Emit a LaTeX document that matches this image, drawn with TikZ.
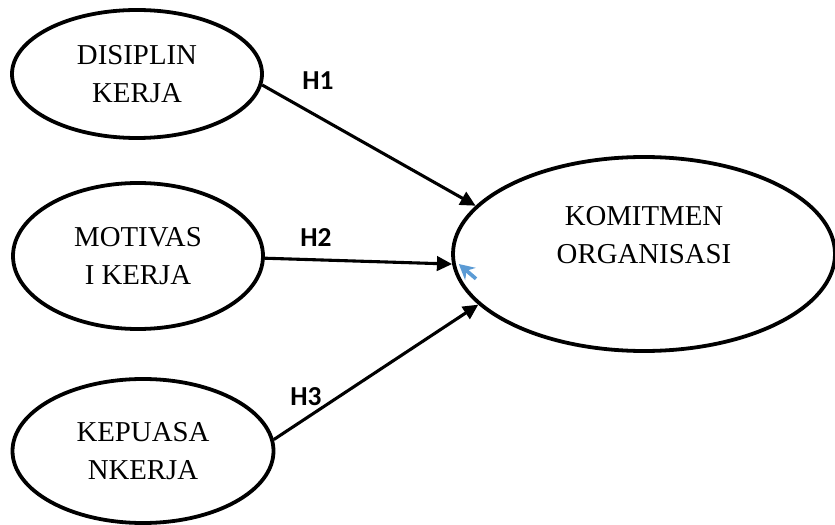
\documentclass[tikz,border=0pt]{standalone}
\usepackage{fontspec}
\setmainfont{Liberation Serif}
\newfontfamily\hypfont{Carlito}
\usetikzlibrary{shapes.geometric, arrows.meta, positioning}
\definecolor{cursorcol}{RGB}{91, 155, 213}

\begin{document}
\begin{tikzpicture}[
    var/.style = {ellipse, draw=black, line width=2.7pt, align=center, inner sep=0pt,
                  font=\fontsize{20.5}{27}\selectfont},
    arrow/.style = {line width=2.2pt, -{Triangle[length=0.38cm, width=0.36cm]}},
    hyp/.style = {font=\hypfont\bfseries\fontsize{19.5}{22}\selectfont}
]

    \useasboundingbox (0,0) rectangle (20.875,13.1);

    % EXOGENOUS VARIABLES
    \node[var, minimum width=6.25cm, minimum height=3.2cm] (disiplin) at (3.425,11.25) {DISIPLIN\\KERJA};
    \node[var, minimum width=6.25cm, minimum height=3.65cm] (motivasi) at (3.45,6.7) {MOTIVAS\\I KERJA};
    \node[var, minimum width=6.525cm, minimum height=3.6cm] (kepuasan) at (3.575,1.825) {KEPUASA\\NKERJA};

    % ENDOGENOUS VARIABLE
    \node[var, minimum width=9.55cm, minimum height=4.85cm, text depth=0.95cm] (komitmen) at (16.1,6.75) {KOMITMEN\\ORGANISASI};

    % ARROWS
    \draw[arrow] (disiplin.-5) -- (komitmen.164);
    \draw[arrow] (motivasi.-1) -- (komitmen.183);
    \draw[arrow] (kepuasan.5) -- (komitmen.197);

    % HYPOTHESES
    \node[hyp] (h1) at (7.95,11.09) {H1};
    \node[hyp] (h2) at (7.9,7.16) {H2};
    \node[hyp] (h3) at (7.65,3.175) {H3};

    % Cursor mark
    \coordinate (cursortail) at (11.9,6.13);
    \coordinate (cursortip) at (11.47,6.5);
    \draw[cursorcol, line width=2.6pt, -{Stealth[length=3.8mm, width=4mm]}] (cursortail) -- (cursortip);

\end{tikzpicture}
\end{document}
